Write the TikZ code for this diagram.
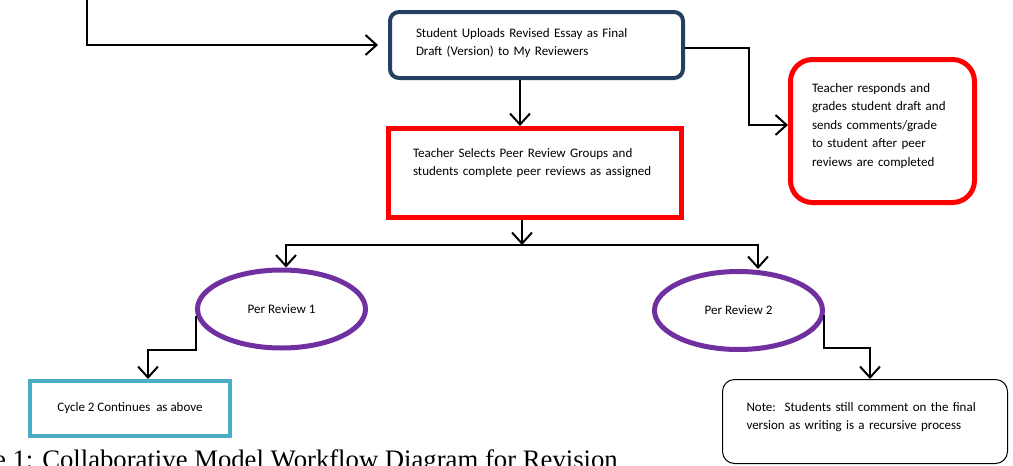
\documentclass[tikz,border=0pt]{standalone}
\usepackage{fontspec}
\setmainfont{Carlito}
\newfontfamily\captionfont{Liberation Serif}
\usetikzlibrary{arrows.meta,shapes.geometric}

\definecolor{uploadblue}{HTML}{243F60}
\definecolor{peerpurple}{HTML}{7030A0}
\definecolor{cyclecyan}{HTML}{4BACC6}

\begin{document}
\begin{tikzpicture}[x=1pt, y=-1pt, font=\fontsize{13}{18.5}\selectfont\frenchspacing]
    % Define styles
    \tikzset{
        uploadbox/.style={draw=uploadblue, line width=4pt, rounded corners=9pt, minimum width=293pt, minimum height=66pt, inner sep=0pt, text width=241pt, align=left, text height=10pt, text depth=26pt},
        selectbox/.style={draw=red, line width=5pt, minimum width=293pt, minimum height=89pt, inner sep=0pt, text width=244pt, align=left, text height=10pt, text depth=42pt},
        gradebox/.style={draw=red, line width=5pt, rounded corners=22pt, minimum width=184pt, minimum height=143pt, inner sep=0pt, text width=141pt, align=left, text height=10pt, text depth=88pt},
        peerellipse/.style={ellipse, draw=peerpurple, line width=5pt, minimum width=168pt, minimum height=78pt, inner sep=0pt},
        cyclebox/.style={draw=cyclecyan, line width=4pt, minimum width=200pt, minimum height=55pt, inner sep=0pt},
        notebox/.style={draw, line width=1pt, rounded corners=12pt, minimum width=285pt, minimum height=84pt, inner sep=0pt, text width=237pt, align=left, text height=10pt, text depth=31pt},
        flow/.style={-{Straight Barb[length=11pt,width=20pt]}, line width=2pt}
    }

    \useasboundingbox (0,0) rectangle (1013,466);
    \clip (0,0) rectangle (1013,466);

    % Top row
    \node[uploadbox] (upload) at (536.5,45) {Student Uploads Revised Essay as Final\\Draft (Version) to My Reviewers};
    \node[gradebox] (grade) at (882.5,131) {Teacher responds and\\grades student draft and\\sends comments/grade\\to student after peer\\reviews are completed};

    % Peer review groups
    \node[selectbox] (select) at (535,173) {Teacher Selects Peer Review Groups and\\students complete peer reviews as assigned};
    \node[peerellipse] (review1) at (281.5,309) {Per Review 1};
    \node[peerellipse] (review2) at (738.5,310.5) {Per Review 2};

    % Bottom row
    \node[cyclebox] (cycle) at (130,408.5) {Cycle 2 Continues\ \ as above};
    \node[notebox] (note) at (865,421.5) {Note:\ \ Students still comment on the final\\version as writing is a recursive process};

    % Caption
    \node[anchor=base west, inner sep=0pt, font=\captionfont\fontsize{26.7}{30}\selectfont] (caption) at (-64,468.5) {Figure 1: Collaborative Model Workflow Diagram for Revision};

    % Connectors
    \coordinate (entry) at (87,-2);
    \coordinate (split) at (522,245);
    \draw[flow, shorten >=10pt] (entry) |- (upload.west);
    \draw[flow] ([yshift=-3pt]upload.east) -- ++(64,0) |- ([yshift=6pt]grade.west);
    \draw[flow] (upload.south -| 520,0) -- (select.north -| 520,0);
    \draw[flow] (select.south -| split) -- (split);
    \draw[flow] (split) -| ([xshift=4.5pt]review1.north);
    \draw[flow] (split) -| ([xshift=19.5pt]review2.north);
    \draw[flow] (review1.185) -- ++(0,34) -| ([xshift=18pt]cycle.north);
    \draw[flow] (review2.357) -- ++(0,33) -| ([xshift=5pt]note.north);

\end{tikzpicture}
\end{document}
